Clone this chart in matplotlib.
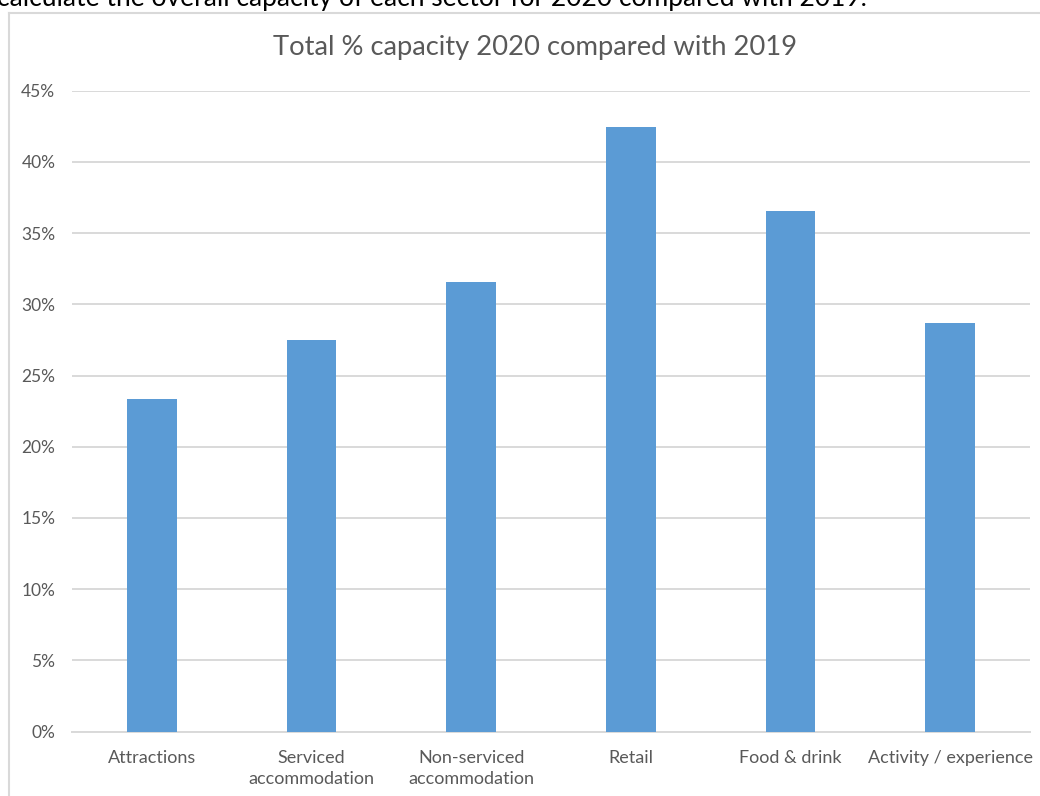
import matplotlib.pyplot as plt
from matplotlib.lines import Line2D
from matplotlib.ticker import PercentFormatter

plt.rcParams['font.family'] = ['Lato', 'DejaVu Sans']

# sectors and share of 2019 capacity reached in 2020
sectors = ['Attractions', 'Serviced\naccommodation', 'Non-serviced\naccommodation',
           'Retail', 'Food & drink', 'Activity / experience']
capacity = [0.2334, 0.2748, 0.3160, 0.4242, 0.3654, 0.2870]
yticks = [0, 0.05, 0.10, 0.15, 0.20, 0.25, 0.30, 0.35, 0.40, 0.45]

W, H = 1040, 796
fig = plt.figure(figsize=(W / 100, H / 100), dpi=100)
ax = fig.add_axes([72 / W, 1 - 731.5 / H, (1030 - 72) / W, (731.5 - 90.7) / H])

ax.bar(range(len(sectors)), capacity, width=0.31, color='#5B9BD5', zorder=3)
ax.set_xlim(-0.5, len(sectors) - 0.5)
ax.set_ylim(0, 0.45)
ax.set_yticks(yticks)
ax.yaxis.set_major_formatter(PercentFormatter(1.0, decimals=0))
ax.set_xticks(range(len(sectors)))
ax.set_xticklabels(sectors, linespacing=1.4, fontsize=13)

ax.grid(axis='y', color='#d9d9d9', lw=1.4, zorder=0)
for s in ['top', 'right', 'left']:
    ax.spines[s].set_visible(False)
ax.spines['bottom'].set_color('#d9d9d9')
ax.spines['bottom'].set_linewidth(1.4)
ax.tick_params(length=0, colors='#595959')
ax.tick_params(axis='y', pad=12, labelsize=12.5)
ax.tick_params(axis='x', pad=13)

fig.text(535 / W, 1 - 48 / H, 'Total % capacity 2020 compared with 2019',
         ha='center', va='center', fontsize=19.7, color='#595959')

# chart frame (continues past the bottom and right edges)
fig.add_artist(Line2D([8.5 / W, 8.5 / W], [0, 1 - 13 / H], color='#d9d9d9', lw=1.5,
                      transform=fig.transFigure))
fig.add_artist(Line2D([8.5 / W, 1], [1 - 13 / H, 1 - 13 / H], color='#d9d9d9', lw=1.5,
                      transform=fig.transFigure))

# cropped document text above the chart
fig.text(-3 / W, 1 - 6 / H,
         'calculate the overall capacity of each sector for 2020 compared with 2019.',
         ha='left', va='baseline', fontsize=19, color='black')

fig.savefig('out.png', dpi=100, facecolor='white')
